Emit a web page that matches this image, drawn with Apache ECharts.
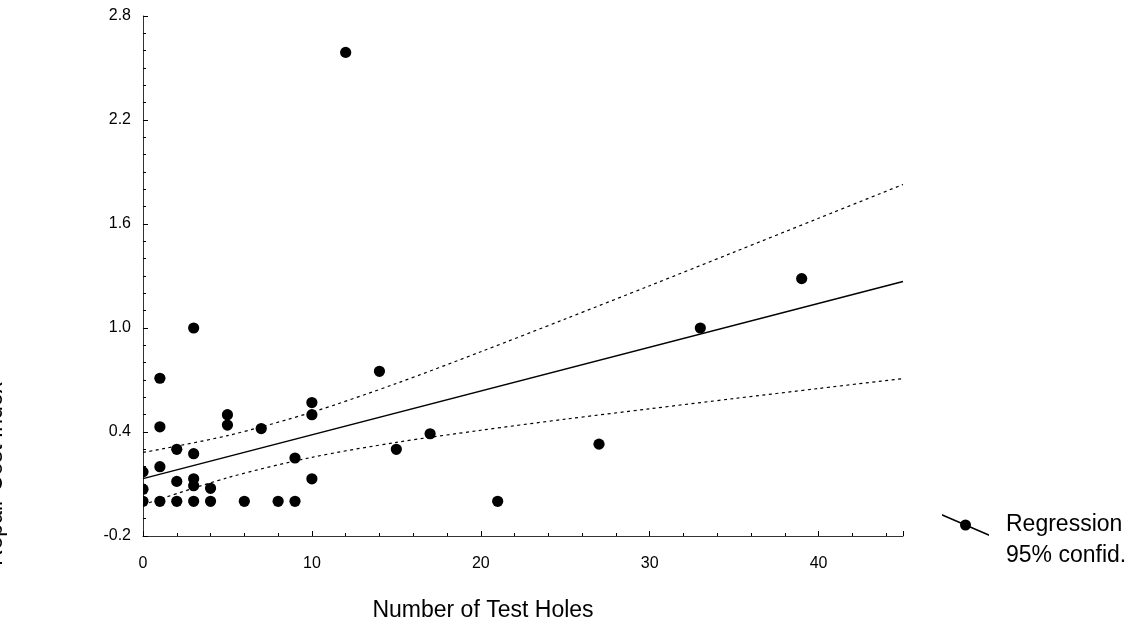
<!DOCTYPE html>
<html><head><meta charset="utf-8">
<script src="https://cdn.jsdelivr.net/npm/echarts@6/dist/echarts.min.js"></script>
<style>html,body{margin:0;padding:0;background:#fff}#c{width:1130px;height:631px}</style>
</head><body><div id="c"></div>
<script>
// ---- data ----
const holes = [0, 0, 0, 1, 1, 1, 1, 2, 2, 2, 3, 3, 3, 3, 3, 4, 4, 5, 5, 6, 7, 8, 9, 9, 10, 10, 10, 12, 14, 15, 17, 21, 27, 33, 39];
const costIndex = [0.00, 0.07, 0.17, 0.00, 0.20, 0.43, 0.71, 0.00, 0.115, 0.30, 0.00, 0.09, 0.13, 0.275, 1.00, 0.00, 0.075, 0.44, 0.50, 0.00, 0.42, 0.00, 0.00, 0.25, 0.13, 0.50, 0.57, 2.59, 0.75, 0.30, 0.39, 0.00, 0.33, 1.00, 1.285];
const regX = [0, 45];
const regY = [0.131, 1.268];
const bandX = [0, 5, 10, 15, 20, 25, 30, 35, 40, 45];
const upperY = [0.282, 0.379, 0.514, 0.680, 0.863, 1.052, 1.244, 1.438, 1.633, 1.828];
const lowerY = [-0.020, 0.136, 0.254, 0.340, 0.410, 0.474, 0.534, 0.593, 0.651, 0.708];
const xTickLabels = [0, 10, 20, 30, 40];
const yTickLabels = [-0.2, 0.4, 1.0, 1.6, 2.2, 2.8];
const xTitle = 'Number of Test Holes';
const yTitle = 'Repair Cost Index';

const FONT = '"Liberation Sans", Arial, sans-serif';
const chart = echarts.init(document.getElementById('c'), null, {renderer: 'canvas'});

const isYLabel = v => yTickLabels.some(t => Math.abs(t - v) < 1e-6);
const isXLabel = v => xTickLabels.some(t => Math.abs(t - v) < 1e-6);

const legendIcon = 'path://M0,0 L47,20.35 L47,22 L0,1.65 Z M18,11 A5.5,5.5 0 1,1 29,11 A5.5,5.5 0 1,1 18,11 Z';

const option = {
  animation: false,
  backgroundColor: '#fff',
  color: ['#000'],
  grid: {left: 143, right: 227, top: 16, bottom: 95, containLabel: false},
  xAxis: [
    {
      type: 'value', position: 'bottom', min: 0, max: 45, interval: 10,
      name: xTitle, nameLocation: 'middle', nameGap: 63,
      nameTextStyle: {fontFamily: FONT, fontSize: 23, color: '#000', padding: [0, 80, 0, 0]},
      axisLine: {show: true, onZero: false, lineStyle: {color: '#333', width: 1}},
      axisTick: {show: true, inside: true, length: 5, lineStyle: {color: '#000'}},
      axisLabel: {margin: 20, fontFamily: FONT, fontSize: 16, color: '#000',
        formatter: v => isXLabel(v) ? String(Math.round(v)) : ''},
      splitLine: {show: false}
    },
    {
      type: 'value', position: 'bottom', min: 0, max: 45, interval: 2,
      axisLine: {show: false, onZero: false},
      axisTick: {show: true, inside: true, length: 3, lineStyle: {color: '#000'}},
      axisLabel: {show: false},
      splitLine: {show: false}
    }
  ],
  yAxis: [
    {
      type: 'value', position: 'left', min: -0.2, max: 2.8, interval: 0.6,
      axisLine: {show: true, onZero: false, lineStyle: {color: '#333', width: 1}},
      axisTick: {show: true, inside: true, length: 5, lineStyle: {color: '#000'}},
      axisLabel: {margin: 12, fontFamily: FONT, fontSize: 16, color: '#000',
        formatter: v => isYLabel(v) ? v.toFixed(1) : ''},
      splitLine: {show: false}
    },
    {
      type: 'value', position: 'left', min: -0.2, max: 2.8, interval: 0.1,
      axisLine: {show: false, onZero: false},
      axisTick: {show: true, inside: true, length: 3, lineStyle: {color: '#000'}},
      axisLabel: {show: false},
      splitLine: {show: false}
    }
  ],
  legend: {
    orient: 'vertical', left: 937, top: 508, padding: 5,
    itemWidth: 47, itemHeight: 22, itemGap: 7,
    selectedMode: false,
    textStyle: {fontFamily: FONT, fontSize: 23, color: '#000', padding: [0, 0, 0, 12], lineHeight: 24},
    data: [
      {name: 'Regression', icon: legendIcon, itemStyle: {color: '#000', borderWidth: 0}},
      {name: '95% confid.', icon: 'rect', itemStyle: {color: 'rgba(0,0,0,0)', borderWidth: 0}}
    ]
  },
  graphic: [
    {
      type: 'text', x: -4, y: 474, rotation: Math.PI / 2, silent: true,
      style: {text: yTitle, font: '23px ' + FONT, fill: '#000',
        textAlign: 'center', textVerticalAlign: 'middle', align: 'center', verticalAlign: 'middle'}
    }
  ],
  series: [
    {
      name: 'Regression', type: 'custom', xAxisIndex: 0, yAxisIndex: 0, clip: true,
      itemStyle: {color: '#000'},
      encode: {x: 0, y: 1},
      data: holes.map((h, i) => [h, costIndex[i]]),
      renderItem: function (params, api) {
        const p = api.coord([api.value(0), api.value(1)]);
        return {type: 'circle', shape: {cx: p[0], cy: p[1], r: 5.6}, style: {fill: '#000'}};
      },
      z: 5
    },
    {
      name: 'Regression', type: 'line', xAxisIndex: 0, yAxisIndex: 0,
      data: regX.map((x, i) => [x, regY[i]]),
      symbol: 'none', lineStyle: {color: '#000', width: 1.5}, z: 3
    },
    {
      name: '95% confid.', type: 'line', xAxisIndex: 0, yAxisIndex: 0, smooth: 0.3,
      data: bandX.map((x, i) => [x, upperY[i]]),
      symbol: 'none', lineStyle: {color: '#000', width: 1.2, type: [3, 3.5]}, z: 3
    },
    {
      name: '95% confid.', type: 'line', xAxisIndex: 0, yAxisIndex: 0, smooth: 0.3,
      data: bandX.map((x, i) => [x, lowerY[i]]),
      symbol: 'none', lineStyle: {color: '#000', width: 1.2, type: [3, 3.5]}, z: 3
    }
  ]
};
chart.setOption(option);
</script>
</body></html>
